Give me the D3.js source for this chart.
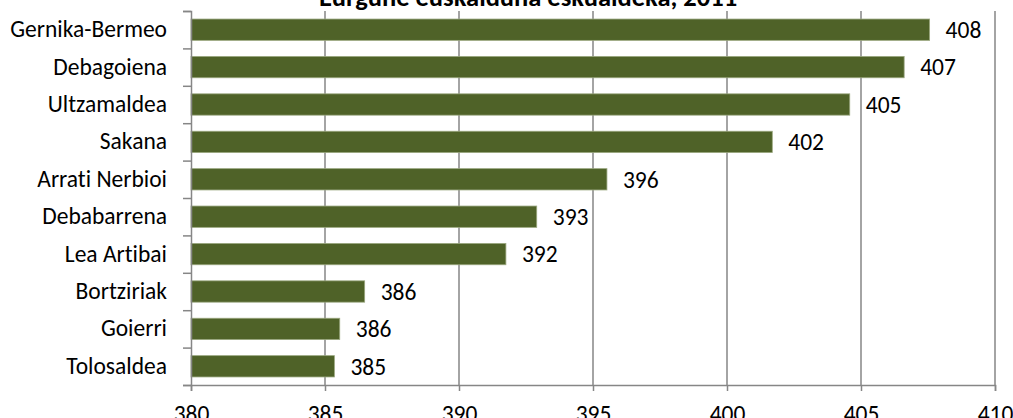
<!DOCTYPE html>
<html>
<head>
<meta charset="utf-8">
<script src="https://cdn.jsdelivr.net/npm/d3@7"></script>
<style>
    body { margin: 0; background: #fff; }
    svg { display: block; }
    svg text { font-family: Carlito, Lato, "Open Sans", sans-serif; font-variant-ligatures: none; }
</style>
</head>
<body>
<div id="chart"></div>
<script>
// regions, top to bottom
const CATEGORIES = ['Gernika-Bermeo', 'Debagoiena', 'Ultzamaldea', 'Sakana', 'Arrati Nerbioi',
    'Debabarrena', 'Lea Artibai', 'Bortziriak', 'Goierri', 'Tolosaldea'];

const VALUES = [407.56, 406.61, 404.58, 401.69, 395.52, 392.9, 391.75, 386.48, 385.55, 385.35];

// labels printed next to the bars
const LABELS = [408, 407, 405, 402, 396, 393, 392, 386, 386, 385];

const X_TICKS = [380, 385, 390, 395, 400, 405, 410];

const TITLE = 'Eurgune euskalduna eskualdeka, 2011';

const FONT_SIZE = 23.5;

let margin = {top: 11, right: 18, bottom: 33, left: 191};
let width = 1013 - margin.left - margin.right;
let height = 418 - margin.top - margin.bottom;

let svg = d3.select('#chart').append('svg')
    .attr('width', 1013)
    .attr('height', 418);

let g = svg.append('g')
    .attr('transform', 'translate(' + margin.left + ',' + margin.top + ')');

let x = d3.scaleLinear().domain([380, 410]).range([0, width]);
let y = d3.scaleBand().domain(CATEGORIES).range([0, height])
    .paddingInner(0.43).paddingOuter(0.215);
// category boundaries, for the little ticks on the left axis
let yEdge = d3.scaleLinear().domain([0, CATEGORIES.length]).range([0, height]);

// vertical gridlines
g.append('g')
    .selectAll('line')
    .data(X_TICKS.slice(1))
    .join('line')
    .attr('x1', d => x(d)).attr('x2', d => x(d))
    .attr('y1', 0).attr('y2', height)
    .attr('stroke', '#868686')
    .attr('stroke-width', 1.5);

// bars
let data = CATEGORIES.map((c, i) => ({name: c, value: VALUES[i], label: LABELS[i]}));

g.append('g')
    .selectAll('rect')
    .data(data)
    .join('rect')
    .attr('x', x(380))
    .attr('y', d => y(d.name))
    .attr('width', d => x(d.value) - x(380))
    .attr('height', y.bandwidth())
    .attr('fill', '#4f6228')
    .attr('stroke', '#9aa77f')
    .attr('stroke-width', 0.8);

// value labels
g.append('g')
    .selectAll('text')
    .data(data)
    .join('text')
    .attr('x', d => x(d.value) + 16)
    .attr('y', d => y(d.name) + y.bandwidth() / 2)
    .attr('dy', '0.35em')
    .attr('font-size', FONT_SIZE)
    .attr('fill', '#000')
    .text(d => d.label);

// x axis
let xAxis = g.append('g')
    .attr('transform', 'translate(0,' + height + ')')
    .call(d3.axisBottom(x).tickValues(X_TICKS).tickSize(6).tickPadding(14));

// y axis: line + boundary ticks
let yAxis = g.append('g')
    .call(d3.axisLeft(yEdge).tickValues(d3.range(CATEGORIES.length + 1)).tickSize(8).tickFormat(''));
yAxis.selectAll('text').remove();

// category labels
let yLabels = g.append('g')
    .call(d3.axisLeft(y).tickSize(0).tickPadding(24));
yLabels.select('.domain').remove();

[xAxis, yAxis, yLabels].forEach(a => {
    a.attr('font-family', null).attr('font-size', null);
    a.selectAll('text').attr('font-size', FONT_SIZE).attr('fill', '#000');
    a.selectAll('.domain, .tick line').attr('stroke', '#868686').attr('stroke-width', 1.5);
});

// title, clipped at the top like in the original
svg.append('text')
    .attr('x', 528)
    .attr('y', 6)
    .attr('text-anchor', 'middle')
    .attr('font-size', 26.5)
    .attr('font-weight', 'bold')
    .text(TITLE);
</script>
</body>
</html>
